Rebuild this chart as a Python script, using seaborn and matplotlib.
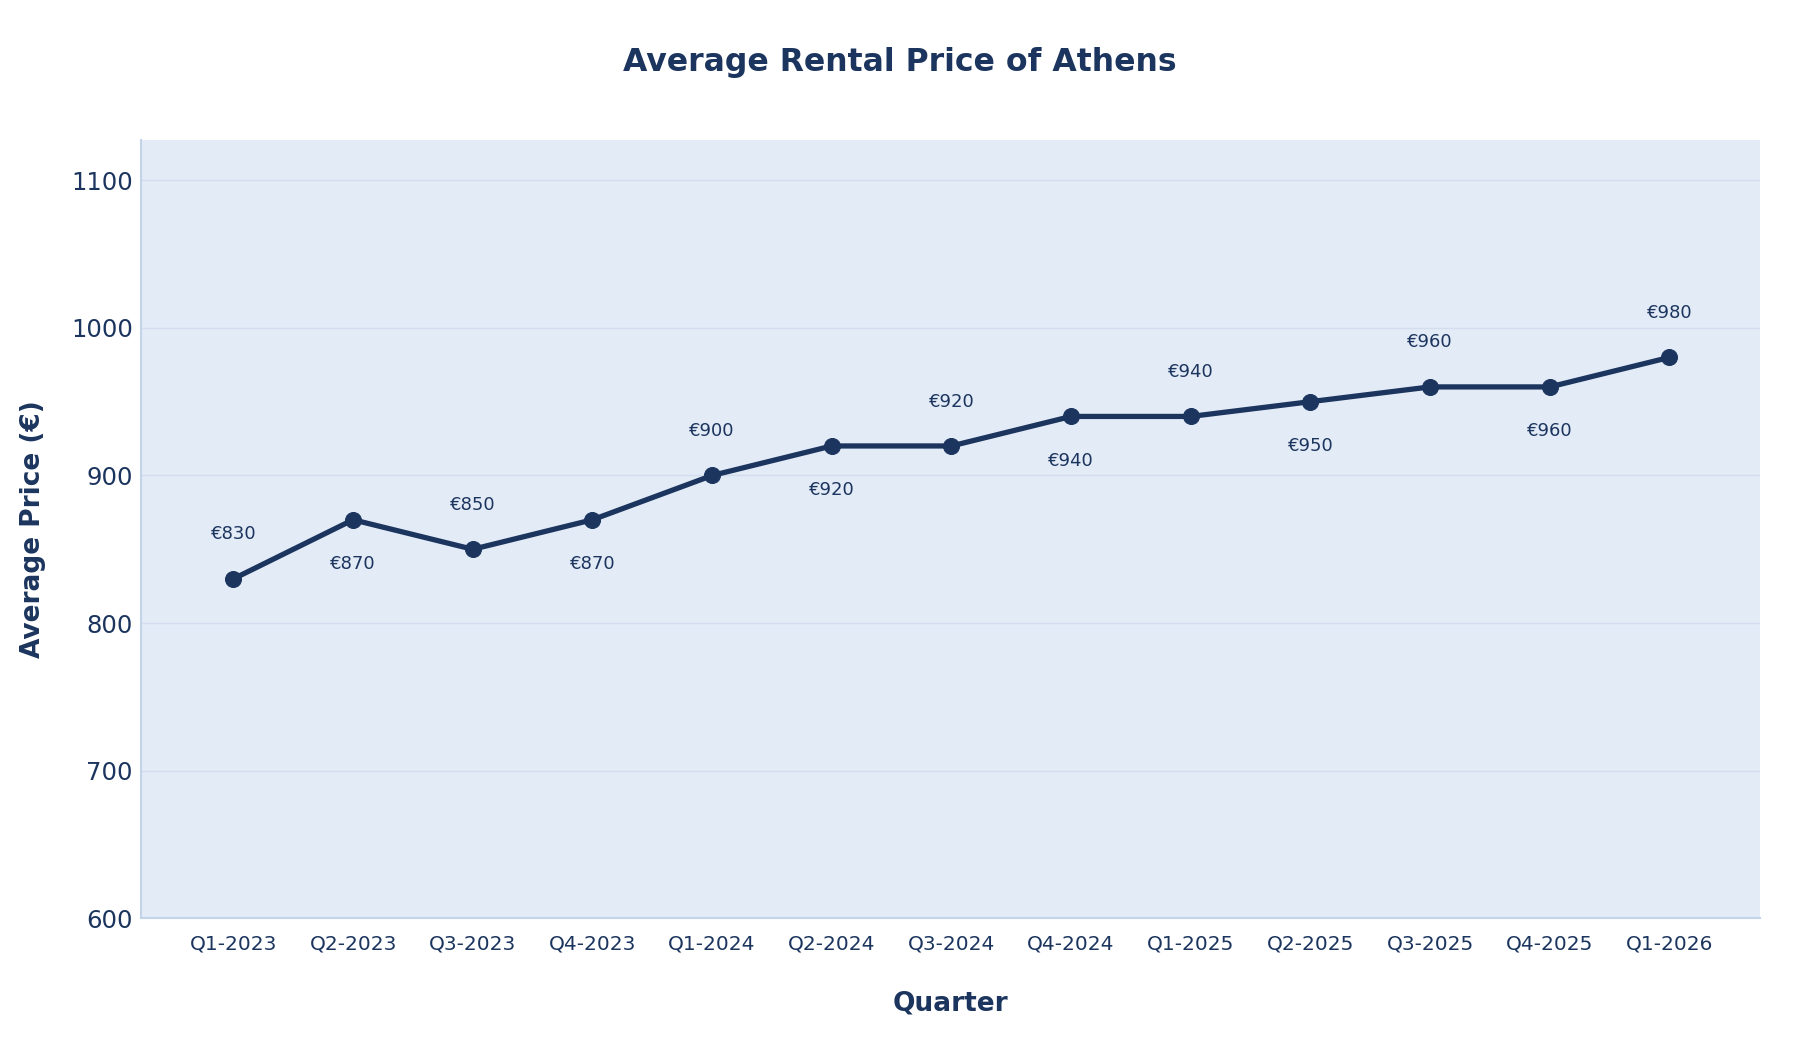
import matplotlib
matplotlib.use("Agg")
import matplotlib.pyplot as plt
import pandas as pd
import seaborn as sns

# data
quarters = [
    "Q1-2023", "Q2-2023", "Q3-2023", "Q4-2023",
    "Q1-2024", "Q2-2024", "Q3-2024", "Q4-2024",
    "Q1-2025", "Q2-2025", "Q3-2025", "Q4-2025",
    "Q1-2026",
]
prices = [830, 870, 850, 870, 900, 920, 920, 940, 940, 950, 960, 960, 980]

NAVY = "#1c355e"
BG = "#e3ebf7"

sns.set_style("white")
plt.rcParams["font.family"] = ["DejaVu Sans"]

df = pd.DataFrame({"Quarter": quarters, "Price": prices})
df["pos"] = range(len(df))

fig = plt.figure(figsize=(18, 10.4), dpi=100)
ax = fig.add_axes([0.0785, 0.117, 0.8995, 0.748])
ax.set_facecolor(BG)

sns.lineplot(
    data=df, x="pos", y="Price", ax=ax,
    color=NAVY, linewidth=3.8,
    marker="o", markersize=11.5, markeredgecolor=NAVY,
)

# alternate labels above/below
for i, (x, y) in enumerate(zip(df["pos"], df["Price"])):
    off = 32 if i % 2 == 0 else -32
    ax.annotate(
        f"€{y}", (x, y), xytext=(0, off), textcoords="offset points",
        ha="center", va="center", fontsize=13, color=NAVY,
    )

ax.set_xlim(-0.77, 12.76)
ax.set_ylim(600, 1127)
ax.set_xticks(df["pos"])
ax.set_xticklabels(quarters)
ax.set_yticks([600, 700, 800, 900, 1000, 1100])

ax.grid(axis="y", color="#d3dded", linewidth=1)
ax.set_axisbelow(True)
for side in ["top", "right"]:
    ax.spines[side].set_visible(False)
for side in ["left", "bottom"]:
    ax.spines[side].set_color("#c3d3e8")
    ax.spines[side].set_linewidth(1.5)

ax.tick_params(axis="x", labelsize=14.5, colors=NAVY, length=0, pad=12)
ax.tick_params(axis="y", labelsize=17.5, colors=NAVY, length=0, pad=6)

ax.set_xlabel("Quarter", fontsize=19, fontweight="heavy", color=NAVY,
              labelpad=26)
ax.set_ylabel("Average Price (€)", fontsize=19, fontweight="heavy",
              color=NAVY, labelpad=18)

fig.suptitle("Average Rental Price of Athens", x=0.5, y=0.955,
             fontsize=22.7, fontweight="heavy", color=NAVY)

fig.savefig("out.png", dpi=100, facecolor="white")
